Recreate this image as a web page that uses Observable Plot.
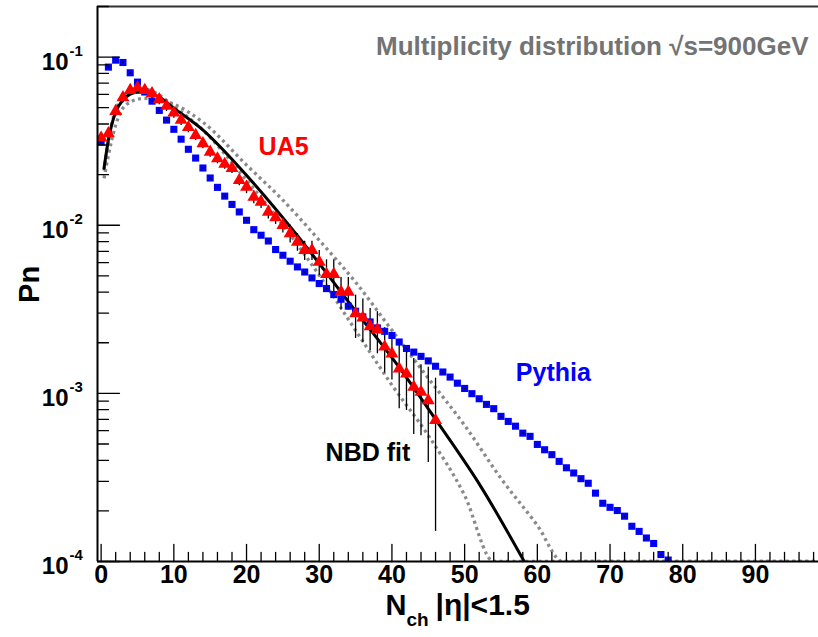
<!DOCTYPE html>
<html><head><meta charset="utf-8">
<script src="https://cdn.jsdelivr.net/npm/d3@7"></script>
<script src="https://cdn.jsdelivr.net/npm/@observablehq/plot@0.6"></script>
<style>
html,body{margin:0;padding:0;background:#fff;overflow:hidden;width:818px;height:637px}
#chart{width:824px}
#chart svg{display:block;max-width:none !important}
</style></head><body><div id="chart"></div>
<script>
// ---------------- data ----------------
// Pythia (blue squares), n = 0..78
const pythiaP = [0.0313,0.0872,0.0959,0.0929,0.0807,0.0710,0.0620,0.0547,0.0482,0.0422,
  0.0372,0.0325,0.0283,0.0251,0.0219,0.0191,0.0168,0.0149,0.0133,0.0120,
  0.0107,0.00941,0.00872,0.00806,0.00717,0.00663,0.00611,0.00565,0.00527,0.00486,
  0.00450,0.00420,0.00387,0.00363,0.00330,0.00308,0.00285,0.00266,0.00245,0.00234,
  0.00221,0.00202,0.00185,0.00176,0.00166,0.00156,0.00145,0.00134,0.00125,0.00115,
  0.00107,0.000996,0.000929,0.00086,0.000811,0.00073,0.000681,0.000638,0.00058,0.000555,
  0.000497,0.000462,0.000432,0.000394,0.000361,0.000336,0.000311,0.000292,0.000255,0.000222,
  0.00021,0.000201,0.000186,0.000162,0.000151,0.000138,0.000128,0.00011,0.000102];
const pythiaN = d3.range(pythiaP.length);

// UA5 data (red triangles) n = 0..46, with errors
const ua5P = [0.0331,0.0351,0.0477,0.0575,0.0636,0.0657,0.0636,0.0608,0.0560,0.0511,
  0.0466,0.0422,0.0382,0.0343,0.0306,0.0273,0.0249,0.0231,0.0218,0.0185,
  0.0169,0.0147,0.01376,0.0120,0.01111,0.0100,0.00893,0.00796,0.00710,0.00710,
  0.00605,0.00511,0.00511,0.00401,0.00401,0.00298,0.00282,0.00250,0.00239,0.00189,
  0.00172,0.00140,0.00131,0.00109,0.00102,0.000908,0.000691];
const ua5Err = [0.0023,0.0025,0.0033,0.0040,0.0045,0.0046,0.0045,0.0043,0.0039,0.0036,
  0.0033,0.0030,0.0027,0.0024,0.0021,0.0019,0.0017,0.0016,0.0015,0.0013,
  0.0015,0.0013,0.0012,0.0011,0.0010,0.0010,0.0011,0.00096,0.00092,0.00092,
  0.00103,0.00112,0.00112,0.00088,0.00088,0.00086,0.00082,0.00070,0.00067,0.00057,
  0.00052,0.00059,0.00052,0.00052,0.00046,0.00052,0.00054];
const ua5N = d3.range(ua5P.length);

// NBD fit (black) and its two bands (grey dotted)
const nbdN = [0.4,1,2,3,4,5,6,7,8,10,13.7,20.6,27.5,34.4,41.3,46.1,52.3,58.2];
const nbdP = [0.0218,0.0321,0.0471,0.0555,0.0602,0.0619,0.0619,0.0602,0.0578,0.0497,
  0.0378,0.0185,0.00814,0.00334,0.00137,0.00069,0.000276,0.0001];
const upN = [0.4,1,2,3,4,5,6,7,8,10,14,20,25,30,35,40,45,50,55,60,63.5,99.5];
const upP = [0.0190,0.0261,0.0394,0.0497,0.054,0.0562,0.0569,0.0569,0.0562,0.0525,
  0.041,0.0228,0.0141,0.00814,0.00458,0.00237,0.00123,0.000645,0.000312,0.000164,0.0001,0.0001];
const loN = [0.4,1,2,3,4,5,6,7,8,10,14,20,25,30,35,40,45,50,54,99.5];
const loP = [0.0212,0.0321,0.0484,0.0578,0.0628,0.0645,0.0645,0.0628,0.0594,0.0511,
  0.0368,0.0185,0.0100,0.00504,0.00237,0.00112,0.000562,0.000247,0.0001,0.0001];

// axis ticks and labels
const xMajor = [0,10,20,30,40,50,60,70,80,90];
const xMinor = d3.range(2, 100, 2).filter(v => v % 10 !== 0);
const yMajor = [1e-4,1e-3,1e-2,1e-1];
const yExp = ["-4","-3","-2","-1"];
const yMinor = [2,3,4,5,6,7,8,9].flatMap(m => [1e-4,1e-3,1e-2,1e-1].map(d => m*d)).filter(v => v <= 0.2);

// annotations
const labelText = ["UA5","Pythia","NBD fit"];
const labelN = [25.1, 62.2, 36.7];
const labelP = [0.0293, 0.00133, 0.000439];
const labelColor = ["#ff0000","#0000ff","#000000"];
const titleText = "Multiplicity distribution √s=900GeV";
const yTitle = "Pn";
const yTitleP = 0.00345;

// ---------------- build ----------------
const pythia = pythiaN.map((n,i) => ({n, p: pythiaP[i]}));
const ua5 = ua5N.map((n,i) => ({n, p: ua5P[i], lo: ua5P[i]-ua5Err[i], hi: ua5P[i]+ua5Err[i]}));
const nbd = nbdN.map((n,i) => ({n, p: nbdP[i]}));
const up = upN.map((n,i) => ({n, p: upP[i]}));
const lo = loN.map((n,i) => ({n, p: loP[i]}));
const labels = labelText.map((t,i) => ({t, n: labelN[i], p: labelP[i], c: labelColor[i]}));

const FONT = "'Liberation Sans', Arial, Helvetica, sans-serif";
const tickShape = {draw(ctx, l){ ctx.moveTo(0,0); ctx.lineTo(0,-l); }};
const dotted = {stroke:"#8a8a8a", strokeWidth:3.3, strokeDasharray:"3,3.5", strokeLinecap:"butt", curve:"monotone-x", clip:true};

const chart = Plot.plot({
  width: 824, height: 637,
  marginLeft: 97, marginRight: 0, marginTop: 6, marginBottom: 76,
  x: {domain: [-0.5, 99.5], axis: null},
  y: {type: "log", domain: [1e-4, 0.2], axis: null},
  style: {fontFamily: FONT, background: "white", maxWidth: "none"},
  marks: [
    Plot.line(up, {x:"n", y:"p", ...dotted}),
    Plot.line(lo, {x:"n", y:"p", ...dotted}),
    Plot.line(nbd, {x:"n", y:"p", stroke:"#000", strokeWidth:3, curve:"monotone-x", clip:true}),
    Plot.ruleX(ua5, {x:"n", y1:"lo", y2:"hi", stroke:"#000", strokeWidth:1.3, clip:true}),
    Plot.dot(pythia, {x:"n", y:"p", symbol:"square", r:4, fill:"#0000ff", stroke:"none", clip:true}),
    Plot.dot(pythia, {x:"n", y:"p", r:0.8, fill:"#000", stroke:"none", clip:true}),
    Plot.dot(ua5, {x:"n", y:"p", symbol:"triangle", r:4.8, fill:"#ff0000", stroke:"none", clip:true}),
    // frame
    Plot.ruleY([0.2], {stroke:"#333", strokeWidth:2}),
    Plot.ruleY([1e-4], {stroke:"#000", strokeWidth:2}),
    Plot.ruleX([-0.5], {stroke:"#000", strokeWidth:2}),
    // ticks (inward)
    Plot.vector(xMajor, {x:d=>d, frameAnchor:"bottom", length:17, rotate:0, anchor:"start", shape:tickShape, stroke:"#000", strokeWidth:1.3}),
    Plot.vector(xMinor, {x:d=>d, frameAnchor:"bottom", length:9, rotate:0, anchor:"start", shape:tickShape, stroke:"#000", strokeWidth:1.3}),
    Plot.vector(yMajor, {y:d=>d, frameAnchor:"left", length:22, rotate:90, anchor:"start", shape:tickShape, stroke:"#000", strokeWidth:1.3}),
    Plot.vector(yMinor, {y:d=>d, frameAnchor:"left", length:11, rotate:90, anchor:"start", shape:tickShape, stroke:"#000", strokeWidth:1.3}),
    // tick labels
    Plot.text(xMajor, {x:d=>d, frameAnchor:"bottom", text:d=>String(d), dy:21, fontSize:25, fontWeight:"bold", fill:"#000"}),
    Plot.text(yMajor, {y:d=>d, frameAnchor:"left", text:()=>"10", textAnchor:"end", dx:-29, dy:5, fontSize:24, fontWeight:"bold", fill:"#000"}),
    Plot.text(yMajor, {y:d=>d, frameAnchor:"left", text:(d,i)=>yExp[i], textAnchor:"start", dx:-28, dy:-6, fontSize:15, fontWeight:"bold", fill:"#000"}),
    // axis titles
    Plot.text(["N"], {frameAnchor:"bottom-left", dx:288, dy:53, textAnchor:"start", fontSize:29, fontWeight:"bold", fill:"#000"}),
    Plot.text(["ch"], {frameAnchor:"bottom-left", dx:309, dy:64, textAnchor:"start", fontSize:19, fontWeight:"bold", fill:"#000"}),
    Plot.text(["|η|<1.5"], {frameAnchor:"bottom-left", dx:338, dy:53, textAnchor:"start", fontSize:30, fontWeight:"bold", fill:"#000"}),
    Plot.text([yTitle], {y:()=>yTitleP, frameAnchor:"left", dx:-68, rotate:-90, fontSize:29, fontWeight:"bold", fill:"#000"}),
    // title and series labels
    Plot.text([titleText], {frameAnchor:"top-right", dx:-16, dy:30, textAnchor:"end", fontSize:26, fontWeight:"bold", fill:"#737373"}),
    Plot.text(labels, {x:"n", y:"p", text:"t", fill:"c", fontSize:25, fontWeight:"bold"})
  ]
});
document.getElementById("chart").appendChild(chart);
</script>
</body></html>
